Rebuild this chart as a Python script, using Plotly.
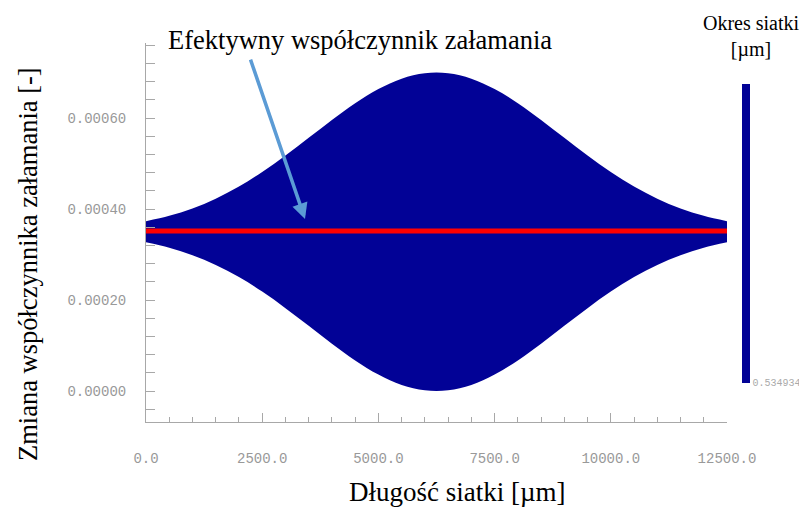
import plotly.graph_objects as go

# Grating position [um]
x_pos = [0, 500, 1000, 1500, 2000, 2500, 3000, 3500, 4000, 4500, 5000, 5500, 6000,
         6500, 7000, 7500, 8000, 8500, 9000, 9500, 10000, 10500, 11000, 11500, 12000, 12500]
# Upper / lower envelope of index modulation [-]
upper_env = [0.0003731, 0.0003850, 0.0004014, 0.0004228, 0.0004495, 0.0004815, 0.0005178,
             0.0005567, 0.0005960, 0.0006328, 0.0006639, 0.0006866, 0.0006985,
             0.0006985, 0.0006866, 0.0006639, 0.0006328, 0.0005960, 0.0005567, 0.0005178,
             0.0004815, 0.0004495, 0.0004228, 0.0004014, 0.0003850, 0.0003731]
lower_env = [0.0003269, 0.0003150, 0.0002986, 0.0002772, 0.0002505, 0.0002185, 0.0001822,
             0.0001433, 0.0001040, 0.0000672, 0.0000361, 0.0000134, 0.0000015,
             0.0000015, 0.0000134, 0.0000361, 0.0000672, 0.0001040, 0.0001433, 0.0001822,
             0.0002185, 0.0002505, 0.0002772, 0.0002986, 0.0003150, 0.0003269]
# Effective index change line
eff_x = [0, 12500]
eff_y = [0.000352, 0.000352]
# Grating period (colorbar)
period_value = [0.534934]

y_tickvals = [0.0, 0.0002, 0.0004, 0.0006]
y_ticktext = ["0.00000", "0.00020", "0.00040", "0.00060"]
x_tickvals = [0, 2500, 5000, 7500, 10000, 12500]
x_ticktext = ["0.0", "2500.0", "5000.0", "7500.0", "10000.0", "12500.0"]

BLUE = "#020296"
AXIS = "#a8a8a8"
TICKFONT = dict(family="Liberation Mono", size=14, color="#999999")
SERIF = "Liberation Serif"

fig = go.Figure()
fig.add_trace(go.Scatter(x=x_pos, y=lower_env, mode="lines", line=dict(width=0, color=BLUE, shape="spline"),
                         showlegend=False, hoverinfo="skip"))
fig.add_trace(go.Scatter(x=x_pos, y=upper_env, mode="lines", line=dict(width=0, color=BLUE, shape="spline"),
                         fill="tonexty", fillcolor=BLUE, showlegend=False))
fig.add_trace(go.Scatter(x=eff_x, y=eff_y, mode="lines", line=dict(width=5, color="#ff0000"),
                         showlegend=False))
fig.add_trace(go.Scatter(
    x=[None], y=[None], mode="markers", showlegend=False,
    marker=dict(color=period_value, colorscale=[[0, BLUE], [1, BLUE]],
                cmin=period_value[0], cmax=period_value[0] + 0.000001, showscale=True,
                colorbar=dict(thickness=8, len=0.789, lenmode="fraction", y=0.103, yanchor="bottom",
                              ypad=0, x=1.026, xanchor="left", xpad=0, outlinewidth=0,
                              tickvals=period_value, ticktext=["%.6f" % period_value[0]],
                              ticks="", ticklen=0,
                              tickfont=dict(family="Liberation Mono", size=10, color="#aaaaaa")))))

fig.update_xaxes(range=[0, 12500], tickvals=x_tickvals, ticktext=x_ticktext, ticks="inside", ticklen=9,
                 tickcolor=AXIS, showline=True, linecolor=AXIS, linewidth=1, showgrid=False, zeroline=False,
                 tickfont=TICKFONT, ticklabelstandoff=23, automargin=False,
                 minor=dict(dtick=500, ticks="inside", ticklen=5, tickcolor=AXIS, showgrid=False))
fig.update_yaxes(range=[-0.0000681, 0.000765], tickvals=y_tickvals, ticktext=y_ticktext, ticks="inside",
                 ticklen=9, tickcolor=AXIS, showline=True, linecolor=AXIS, linewidth=1, showgrid=False,
                 zeroline=False, tickfont=TICKFONT, ticklabelstandoff=16, automargin=False,
                 minor=dict(tick0=0, dtick=0.00004, ticks="inside", ticklen=9, tickcolor=AXIS, showgrid=False))

fig.add_annotation(text="Efektywny współczynnik załamania", xref="paper", yref="paper",
                   x=(360 - 146) / 581, y=(422 - 40) / 379, showarrow=False,
                   xanchor="center", yanchor="middle",
                   font=dict(family=SERIF, size=26.5, color="black"))
fig.add_annotation(x=3421, y=0.000378, xref="x", yref="y", text="", showarrow=True,
                   ax=-55, ay=-161, arrowhead=2, arrowsize=0.9, arrowwidth=3.5, arrowcolor="#5b9bd5",
                   standoff=0)
fig.add_annotation(text="Zmiana współczynnika załamania [-]", xref="paper", yref="paper",
                   x=(28 - 146) / 581, y=(422 - 264) / 379, textangle=-90, showarrow=False,
                   xanchor="center", yanchor="middle",
                   font=dict(family=SERIF, size=26.5, color="black"))
fig.add_annotation(text="Długość siatki [µm]", xref="paper", yref="paper",
                   x=(457 - 146) / 581, y=(422 - 492) / 379, showarrow=False,
                   xanchor="center", yanchor="middle",
                   font=dict(family=SERIF, size=27, color="black"))
fig.add_annotation(text="Okres siatki<br>[µm]", xref="paper", yref="paper",
                   x=(752 - 146) / 581, y=(422 - 36) / 379, showarrow=False,
                   xanchor="center", yanchor="middle",
                   font=dict(family=SERIF, size=20, color="black"))

# the page body adds an 8 px offset, so the figure is 8 px smaller and shifted accordingly
fig.update_layout(width=799, height=502, margin=dict(l=138, r=80, t=35, b=88, autoexpand=False),
                  paper_bgcolor="white", plot_bgcolor="white")

fig.write_html("out.html")
